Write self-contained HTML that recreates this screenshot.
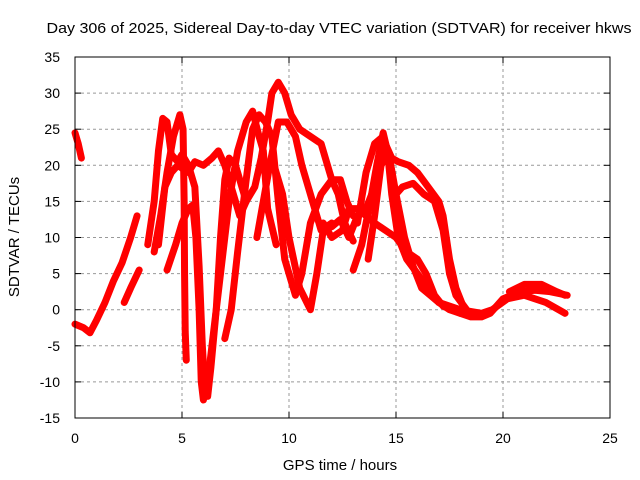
<!DOCTYPE html>
<html><head><meta charset="utf-8">
<style>
body{margin:0;background:#fff;}
svg{display:block;font-family:"Liberation Sans",sans-serif;}
</style></head>
<body>
<svg id="chart" width="640" height="480" viewBox="0 0 640 480" xmlns="http://www.w3.org/2000/svg">
<rect width="640" height="480" fill="#fff"/>
<text x="339" y="33" font-size="15" text-anchor="middle" fill="#000" textLength="585" lengthAdjust="spacingAndGlyphs">Day 306 of 2025, Sidereal Day-to-day VTEC variation (SDTVAR) for receiver hkws</text>
<g id="grid"></g>
<g id="series"></g>
<rect x="75" y="57" width="535" height="361" fill="none" stroke="#000" stroke-width="1"/>
<g id="ticks"></g>
<text x="340" y="470" font-size="15" text-anchor="middle">GPS time / hours</text>
<text transform="translate(19,237) rotate(-90)" font-size="15" text-anchor="middle">SDTVAR / TECUs</text>
</svg>
<script>
const xTicks=[0,5,10,15,20,25];
const yTicks=[-15,-10,-5,0,5,10,15,20,25,30,35];
const trace1=[[0,-2],[0.4,-2.5],[0.7,-3.2],[1.0,-1.5],[1.4,1],[1.8,4],[2.2,6.5],[2.6,10],[2.9,13]];
const trace2=[[0,24.5],[0.15,23],[0.3,21]];
const trace3=[[2.3,1],[2.6,3],[3.0,5.5]];
const trace4=[[3.4,9],[3.7,15],[3.9,22],[4.1,26.5],[4.3,26],[4.5,21.5],[4.8,20.5],[5.0,21.5],[5.3,20],[5.6,17],[5.8,6],[5.95,-5],[6.05,-10],[6.2,-12],[6.35,-8],[6.6,0],[6.8,10],[7.0,18],[7.2,21],[7.5,20],[7.8,17],[8.0,15]];
const trace5=[[3.7,8],[4.0,13],[4.3,19],[4.6,24],[4.9,27],[5.05,25],[5.1,15],[5.12,5],[5.15,-3],[5.2,-7]];
const trace6=[[4.3,5.5],[4.7,9],[5.0,12],[5.3,14],[5.5,14.5],[5.65,10],[5.8,0],[5.9,-10],[6.0,-12.5],[6.2,-10],[6.4,-5],[6.8,5],[7.2,15],[7.6,22],[8.0,26],[8.3,27.5],[8.6,24],[8.8,22],[9.0,14],[9.4,9]];
const trace7=[[3.9,9],[4.2,17],[4.5,19],[4.8,20],[5.3,19],[5.6,20.5],[6.0,20],[6.4,21],[6.7,22],[7.0,20],[7.3,17],[7.7,13],[8.0,15],[8.4,17],[8.7,21],[9.0,26],[9.2,30],[9.5,31.5],[9.8,30],[10.1,27],[10.5,25],[11.0,24],[11.5,23],[11.7,21],[12.0,18],[12.3,16],[12.6,12],[13.0,9.5]];
const trace8=[[7.0,-4],[7.3,0],[7.6,8],[8.0,18],[8.3,25],[8.6,27],[8.9,26],[9.2,24],[9.5,15],[9.8,7],[10.0,5],[10.3,2],[10.6,5],[11.0,12],[11.5,16],[12.0,18],[12.4,18],[12.7,15],[13.0,13]];
const trace9=[[8.5,10],[8.8,15],[9.1,20],[9.5,26],[9.9,26],[10.3,24],[10.6,20],[11.1,15],[11.5,11],[12,12]];
const trace10=[[9.3,20],[9.7,16],[10,10],[10.5,3],[11,0],[11.3,5],[11.6,11],[12,11.5],[12.4,12.5],[12.8,10],[13.2,13],[13.6,14],[14,17],[14.3,20],[14.5,21]];
const trace11=[[13.0,5.5],[13.4,9],[13.8,15],[14.1,20],[14.4,24.5],[14.6,22],[14.8,16],[15.1,10],[15.5,7],[16,5],[16.5,3],[17,1],[17.5,0],[18,-0.5],[18.5,-1],[19,-1],[19.4,-0.5],[20,1.5],[20.8,2.5],[21.5,2.7],[22.2,2.5],[23,2]];
const trace12=[[13.7,7],[14.0,13],[14.3,20],[14.5,23],[14.8,21],[15.1,20.5],[15.6,20],[16,19],[16.5,17],[17,15],[17.2,13],[17.5,7],[17.8,3],[18.2,0],[18.6,-0.5]];
const trace13=[[13.2,12],[13.6,19],[14.0,23],[14.4,24],[14.7,21],[15,16],[15.4,10],[15.8,6],[16.2,3],[16.6,2],[17,1],[18,0],[19,-0.5],[19.5,0],[20.2,1.5],[21,2],[22,1],[22.9,-0.5]];
const trace14=[[11.6,12],[12,10],[12.5,11],[12.8,14],[13.2,14],[13.6,13],[14,12],[14.5,11],[15,10],[15.5,8],[16,7],[16.4,5],[16.8,2],[17.2,0.5],[17.6,0],[18,-0.5]];
const trace15=[[15.0,16],[15.3,17],[15.8,17.5],[16.3,16],[16.8,15],[17.2,11],[17.5,5],[17.8,2],[18.3,0]];
const trace16=[[20.3,2.5],[21,3.5],[21.8,3.5],[22.5,2.5],[22.9,2]];
const traces=[trace1,trace2,trace3,trace4,trace5,trace6,trace7,trace8,trace9,trace10,trace11,trace12,trace13,trace14,trace15,trace16];

const NS="http://www.w3.org/2000/svg";
const X=h=>75+h*(535/25);
const Y=v=>418-(v+15)*(361/50);
const grid=document.getElementById('grid'),ticks=document.getElementById('ticks'),ser=document.getElementById('series');
function mk(tag,attrs,parent){const e=document.createElementNS(NS,tag);for(const k in attrs)e.setAttribute(k,attrs[k]);parent.appendChild(e);return e;}
xTicks.forEach(t=>{
  const x=X(t);
  if(t>0&&t<25){const g=mk('line',{x1:x,x2:x,y1:57,y2:418,stroke:'#999','stroke-dasharray':'3,3'},grid);
  
  }
  mk('line',{x1:x,x2:x,y1:418,y2:412,stroke:'#000'},ticks);
  mk('line',{x1:x,x2:x,y1:57,y2:63,stroke:'#000'},ticks);
  const l=mk('text',{x:x,y:443,'font-size':14,'text-anchor':'middle'},ticks);l.textContent=t;
  
  
});
yTicks.forEach(t=>{
  const y=Y(t);
  if(t>-15&&t<35){const g=mk('line',{x1:75,x2:610,y1:y,y2:y,stroke:'#999','stroke-dasharray':'3,3'},grid);
  
  }
  mk('line',{x1:75,x2:81,y1:y,y2:y,stroke:'#000'},ticks);
  mk('line',{x1:604,x2:610,y1:y,y2:y,stroke:'#000'},ticks);
  const l=mk('text',{x:60,y:y+5,'font-size':14,'text-anchor':'end'},ticks);l.textContent=t;
  
  
});
traces.forEach((tr,i)=>{
  const p=mk('polyline',{points:tr.map(d=>X(d[0])+','+Y(d[1])).join(' '),fill:'none',stroke:'#ff0000','stroke-width':7,'stroke-linejoin':'round','stroke-linecap':'round'},ser);
  
  
});
</script>
</body></html>
